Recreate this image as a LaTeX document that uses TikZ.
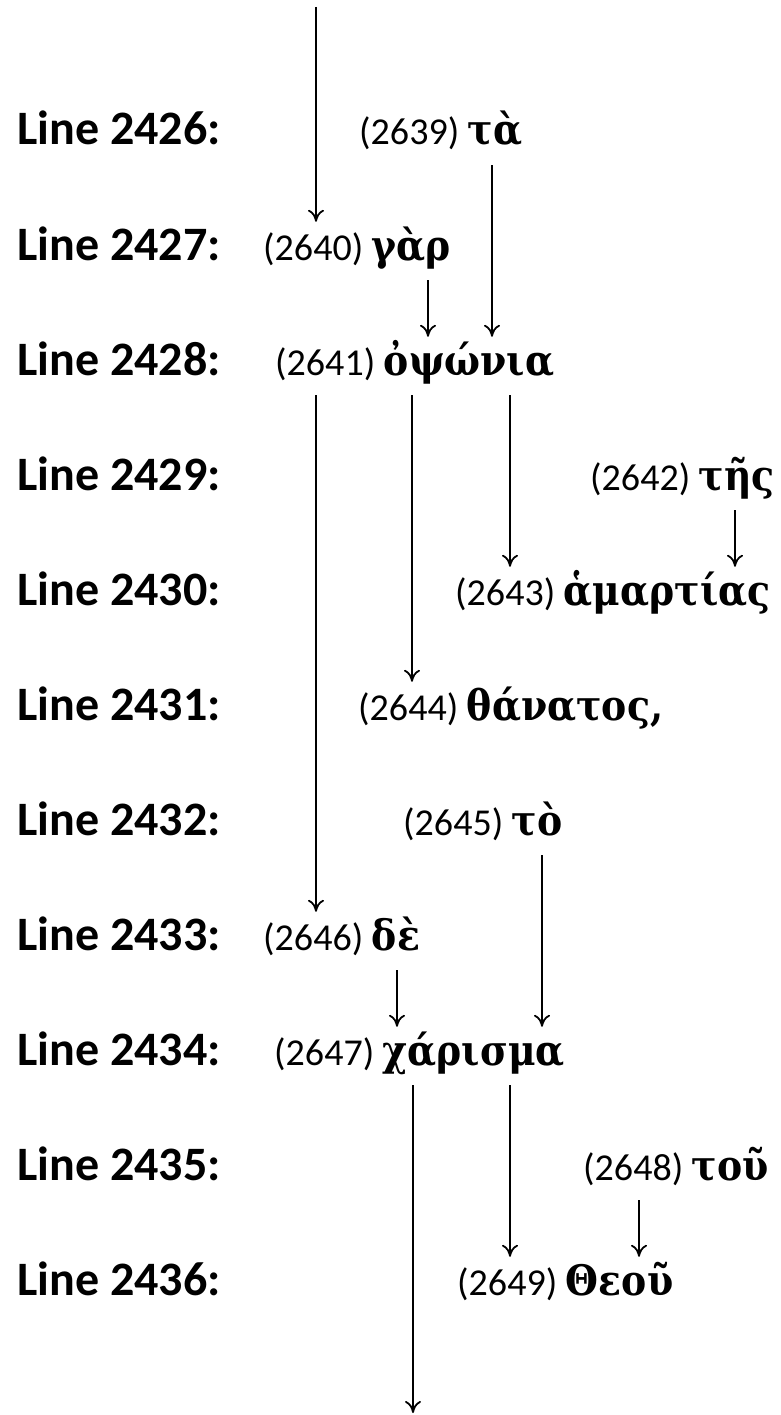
\documentclass[tikz,border=0pt]{standalone}
\usepackage{fontspec}
\setmainfont{Carlito}
\newfontfamily\grk[FakeStretch=0.9]{DejaVu Serif}
\usetikzlibrary{arrows.meta}
\tikzset{>={To[length=12pt,width=16pt]},%
  lbl/.style={anchor=base west,inner sep=0pt,font=\fontsize{48}{52}\selectfont\bfseries},%
  wrd/.style={anchor=base west,inner xsep=0pt,inner ysep=6pt,text height=32pt,
    text depth=14pt,font=\fontsize{38}{42}\selectfont},%
  link/.style={->,line width=1.8pt}}
\newcommand{\gk}[1]{{\grk\fontsize{42}{46}\selectfont\bfseries #1}}

\begin{document}
\begin{tikzpicture}[x=1pt,y=-1pt]
  \useasboundingbox (0,0) rectangle (780,1415);
  \foreach \n [count=\i from 0] in {2426,...,2436}
    \node[lbl] (l\n) at (17,145+115*\i) {Line \n:};
  \node[wrd] (w2639) at (359,145) {(2639) \gk{τὰ}};
  \node[wrd] (w2640) at (263,260) {(2640) \gk{γὰρ}};
  \node[wrd] (w2641) at (275,375) {(2641) \gk{ὀψώνια}};
  \node[wrd] (w2642) at (590,490) {(2642) \gk{τῆς}};
  \node[wrd] (w2643) at (455,605) {(2643) \gk{ἁμαρτίας}};
  \node[wrd] (w2644) at (358,720) {(2644) \gk{θάνατος,}};
  \node[wrd] (w2645) at (403,835) {(2645) \gk{τὸ}};
  \node[wrd] (w2646) at (263,950) {(2646) \gk{δὲ}};
  \node[wrd] (w2647) at (274,1065) {(2647) \gk{χάρισμα}};
  \node[wrd] (w2648) at (583,1180) {(2648) \gk{τοῦ}};
  \node[wrd] (w2649) at (457,1295) {(2649) \gk{Θεοῦ}};
  \coordinate (top) at (316,7);
  \coordinate (bot) at (413,1413);
  \draw[link] (top) -- (top |- w2640.north);
  \foreach \a/\b/\x in {2639/2641/492,2640/2641/428,2641/2646/316,2641/2644/412,
      2641/2643/510,2642/2643/735,2645/2647/542,2646/2647/397,2647/2649/510,
      2648/2649/639}
    \draw[link] (w\a.south -| \x,0) -- (w\b.north -| \x,0);
  \draw[link] (w2647.south -| bot) -- (bot);
\end{tikzpicture}
\end{document}
